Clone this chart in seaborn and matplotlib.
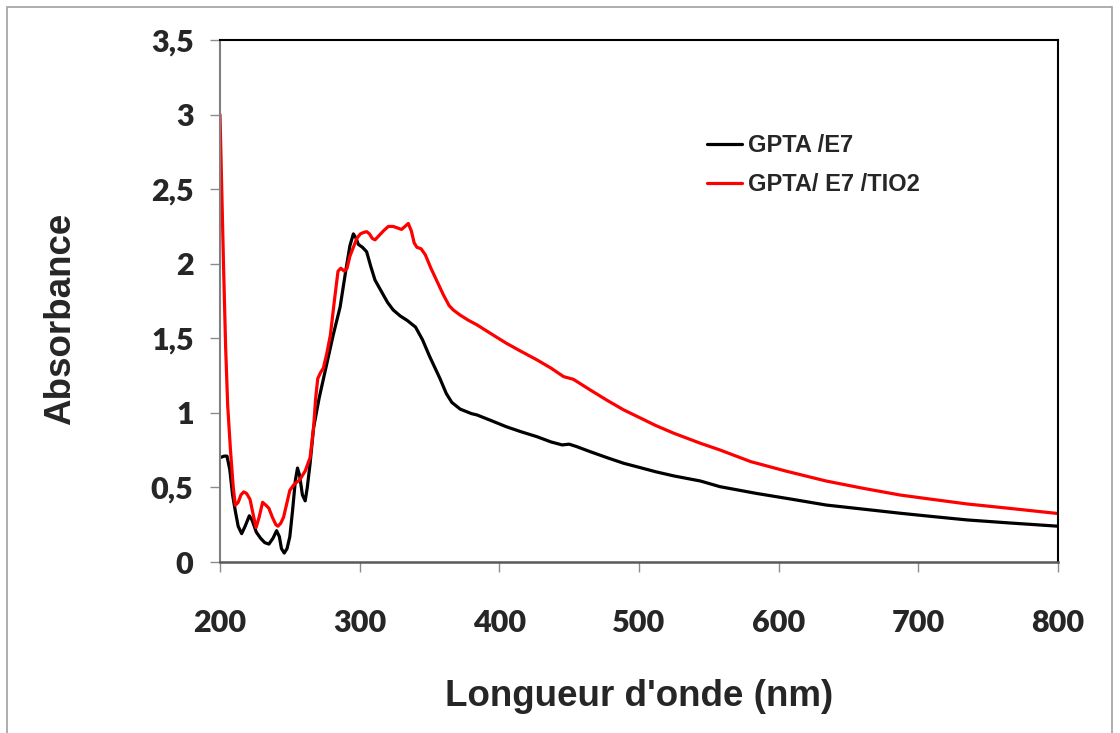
"""
UV-Vis absorbance spectra: GPTA/E7 vs GPTA/E7/TiO2
"""

import matplotlib
matplotlib.use("Agg")
import matplotlib.pyplot as plt
import matplotlib.patches as patches
import seaborn as sns

# wavelength (nm) and absorbance
wl_e7 = [200, 203, 205, 207, 209, 211, 213, 215.5, 218, 221, 223, 226, 229, 232, 235,
         238, 240.5, 242.5, 244, 246, 248, 250, 252, 254, 255.5, 257, 259, 261, 262.5,
         264.5, 267, 271, 276, 281, 286, 290, 293, 295.5, 297.5, 299, 302, 305, 308,
         311, 314, 317, 320, 324, 329, 334, 340, 345, 350, 354, 357.5, 362, 366, 372,
         380, 384, 395, 405, 415, 427, 437, 445, 450, 455, 465, 477, 489, 500, 512,
         525, 544, 558, 584, 610, 634, 660, 687, 710, 735, 765, 800]
abs_e7 = [0.70, 0.71, 0.71, 0.62, 0.45, 0.34, 0.24, 0.19, 0.24, 0.31, 0.28, 0.20, 0.16,
          0.13, 0.12, 0.16, 0.21, 0.17, 0.09, 0.06, 0.09, 0.17, 0.35, 0.55, 0.63, 0.58,
          0.45, 0.41, 0.50, 0.66, 0.90, 1.10, 1.31, 1.52, 1.71, 1.95, 2.12, 2.20, 2.17,
          2.13, 2.11, 2.08, 1.98, 1.89, 1.84, 1.79, 1.74, 1.69, 1.65, 1.62, 1.575, 1.49,
          1.38, 1.30, 1.23, 1.13, 1.07, 1.025, 0.995, 0.986, 0.945, 0.907, 0.875, 0.84,
          0.805, 0.785, 0.79, 0.775, 0.74, 0.70, 0.662, 0.635, 0.605, 0.577, 0.543,
          0.505, 0.46, 0.42, 0.382, 0.355, 0.327, 0.305, 0.282, 0.262, 0.24]

wl_tio2 = [200, 201, 202.5, 204, 205.5, 207.5, 209.5, 211, 213, 215, 217, 219, 221.5,
           223.5, 225.8, 228, 230.5, 233, 235, 237.5, 240, 241.5, 243.5, 245.5, 248,
           250, 253, 257, 261, 264.5, 267, 268.5, 270, 272, 274, 276.5, 279, 282, 284.5,
           286.5, 289, 291, 293, 295.5, 298, 300.5, 303, 305, 307, 309, 311, 314, 317,
           320.5, 324, 327, 330, 332.5, 334.8, 337, 339, 341, 344, 347, 351, 355, 360,
           364, 367, 372, 378, 384, 395, 405, 416, 427, 437, 446, 453, 465, 477, 489,
           500, 512, 525, 544, 558, 580, 605, 634, 660, 687, 710, 735, 765, 800]
abs_tio2 = [3.00, 2.60, 2.00, 1.45, 1.05, 0.75, 0.50, 0.38, 0.40, 0.45, 0.47, 0.46, 0.42,
            0.33, 0.23, 0.30, 0.40, 0.38, 0.36, 0.30, 0.25, 0.24, 0.26, 0.30, 0.40, 0.48,
            0.52, 0.55, 0.61, 0.70, 0.90, 1.10, 1.23, 1.27, 1.30, 1.40, 1.52, 1.76, 1.95,
            1.97, 1.95, 1.97, 2.05, 2.11, 2.17, 2.20, 2.21, 2.215, 2.20, 2.17, 2.16, 2.19,
            2.22, 2.25, 2.25, 2.24, 2.23, 2.25, 2.27, 2.22, 2.14, 2.11, 2.10, 2.06, 1.97,
            1.89, 1.79, 1.72, 1.69, 1.655, 1.62, 1.59, 1.525, 1.467, 1.41, 1.355, 1.30,
            1.243, 1.225, 1.154, 1.085, 1.02, 0.97, 0.915, 0.863, 0.796, 0.751, 0.673,
            0.61, 0.543, 0.495, 0.449, 0.42, 0.389, 0.36, 0.325]

labels = ["GPTA /E7", "GPTA/ E7 /TIO2"]
colors = ["black", "#ff0000"]
x_ticks = [200, 300, 400, 500, 600, 700, 800]
y_ticks = [0, 0.5, 1, 1.5, 2, 2.5, 3, 3.5]
y_tick_labels = ["0", "0,5", "1", "1,5", "2", "2,5", "3", "3,5"]

sns.set_style("white")

fig = plt.figure(figsize=(11.2, 7.33), dpi=100)
ax = fig.add_axes([220 / 1120, 1 - 562 / 733, (1058 - 220) / 1120, (562 - 40) / 733])

sns.lineplot(x=wl_e7, y=abs_e7, ax=ax, color=colors[0], linewidth=2.3,
             label=labels[0], sort=False)
sns.lineplot(x=wl_tio2, y=abs_tio2, ax=ax, color=colors[1], linewidth=2.3,
             label=labels[1], sort=False)

ax.set_xlim(200, 800)
ax.set_ylim(0, 3.5)
ax.set_xticks(x_ticks)
ax.set_yticks(y_ticks)
ax.set_yticklabels(y_tick_labels)

for lab in ax.get_xticklabels() + ax.get_yticklabels():
    lab.set_fontfamily("Lato")
    lab.set_fontweight("heavy")
    lab.set_fontsize(22)

ax.tick_params(axis="x", direction="out", length=7, width=1, color="#8c8c8c", pad=27,
               bottom=True)
ax.tick_params(axis="y", direction="out", length=7, width=1, color="#8c8c8c", pad=12,
               left=True)

for side in ["top", "right"]:
    ax.spines[side].set_color("black")
    ax.spines[side].set_linewidth(1.5)
ax.spines["left"].set_color("#7f7f7f")
ax.spines["left"].set_linewidth(1.5)
ax.spines["bottom"].set_color("#595959")
ax.spines["bottom"].set_linewidth(1.8)

label_font = {"family": "Liberation Sans", "weight": "bold", "size": 26.5}
ax.set_xlabel("Longueur d'onde (nm)", fontdict=label_font, labelpad=30)
ax.set_ylabel("Absorbance", fontdict=label_font)
ax.yaxis.set_label_coords((78 - 220) / 838, (562 - 319) / 522)

ax.legend(loc="upper left", bbox_to_anchor=(707 / 1120, 1 - 134 / 733),
          bbox_transform=fig.transFigure, frameon=False, borderpad=0,
          borderaxespad=0, handlelength=1.5, handletextpad=0.25, labelspacing=0.68,
          prop={"family": "Liberation Sans", "weight": "bold", "size": 17})

# outer chart border
fig.patches.append(patches.Rectangle((7 / 1120, -0.01), (1112 - 7) / 1120, 1 - 7 / 733 + 0.01,
                                     transform=fig.transFigure, fill=False,
                                     edgecolor="#a0a0a0", linewidth=1.2))

fig.savefig("out.png", dpi=100)
plt.close(fig)
